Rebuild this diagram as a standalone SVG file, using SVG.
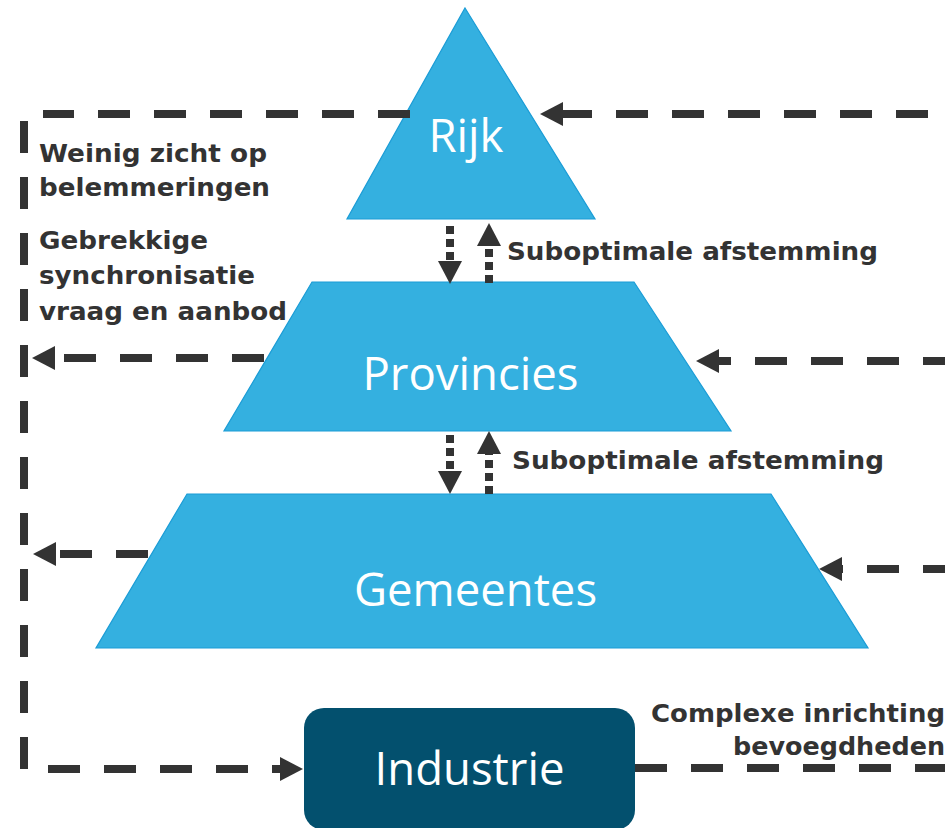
<svg xmlns="http://www.w3.org/2000/svg" width="945" height="828" viewBox="0 0 945 828">
<style>
.tier{fill:#34B0E0;stroke:#1A9CD6;stroke-width:1.2}
.ind{fill:#03506E}
.nl{font-family:"Open Sans","Noto Sans",sans-serif;font-size:45.5px;fill:#fff;text-anchor:middle}
.lbl{font-family:"DejaVu Sans","Verdana",sans-serif;font-weight:bold;font-size:25px;fill:#333}
.dash{fill:none;stroke:#333;stroke-width:8;stroke-dasharray:32 24}
.dot{fill:none;stroke:#333;stroke-width:8;stroke-dasharray:8 5}
</style>
<defs>
<marker id="ah" markerUnits="userSpaceOnUse" markerWidth="24" markerHeight="24" viewBox="0 0 23 24" refX="0" refY="12" orient="auto">
<path d="M0,0 L23,12 L0,24 Z" fill="#333"/>
</marker>
</defs>
<rect width="945" height="828" fill="#fff"/>
<g id="rijk">
<polygon class="tier" points="465,8 595,219 347,219"/>
<text class="nl" x="466" y="152">Rijk</text>
</g>
<g id="provincies">
<polygon class="tier" points="312,282 634,282 731,431 224,431"/>
<text class="nl" x="470.5" y="390">Provincies</text>
</g>
<g id="gemeentes">
<polygon class="tier" points="187,494 771,494 868,648 96,648"/>
<text class="nl" x="475.5" y="606">Gemeentes</text>
</g>
<g id="industrie">
<rect class="ind" x="304" y="708" width="331" height="122" rx="20"/>
<text class="nl" x="469.5" y="785">Industrie</text>
</g>
<g id="connectors">
<path class="dash" d="M410,114 H43"/>
<path class="dash" d="M24,121 V769"/>
<path class="dash" d="M984,114 H563" marker-end="url(#ah)"/>
<path class="dash" d="M264,358 H55" marker-end="url(#ah)"/>
<path class="dash" d="M148,554 H56" marker-end="url(#ah)"/>
<path class="dash" d="M48,769 H280" marker-end="url(#ah)"/>
<path class="dash" d="M635,768 H960"/>
<path class="dash" d="M1011,361 H719" marker-end="url(#ah)"/>
<path class="dash" d="M1011,569 H842" marker-end="url(#ah)"/>
<path class="dot" d="M450,226 V261" marker-end="url(#ah)"/>
<path class="dot" d="M489,283 V246" marker-end="url(#ah)"/>
<path class="dot" d="M450,435 V471" marker-end="url(#ah)"/>
<path class="dot" d="M489,494 V454" marker-end="url(#ah)"/>
</g>
<g id="labels">
<text class="lbl" x="39" y="162" textLength="228" lengthAdjust="spacingAndGlyphs">Weinig zicht op</text>
<text class="lbl" x="39" y="196" textLength="231" lengthAdjust="spacingAndGlyphs">belemmeringen</text>
<text class="lbl" x="39" y="249" textLength="169" lengthAdjust="spacingAndGlyphs">Gebrekkige</text>
<text class="lbl" x="39" y="284" textLength="216" lengthAdjust="spacingAndGlyphs">synchronisatie</text>
<text class="lbl" x="39" y="320" textLength="248" lengthAdjust="spacingAndGlyphs">vraag en aanbod</text>
<text class="lbl" x="507" y="260" textLength="371" lengthAdjust="spacingAndGlyphs">Suboptimale afstemming</text>
<text class="lbl" x="512" y="469" textLength="372" lengthAdjust="spacingAndGlyphs">Suboptimale afstemming</text>
<text class="lbl" x="651" y="722" textLength="294" lengthAdjust="spacingAndGlyphs">Complexe inrichting</text>
<text class="lbl" x="733" y="755" textLength="212" lengthAdjust="spacingAndGlyphs">bevoegdheden</text>
</g>
</svg>
